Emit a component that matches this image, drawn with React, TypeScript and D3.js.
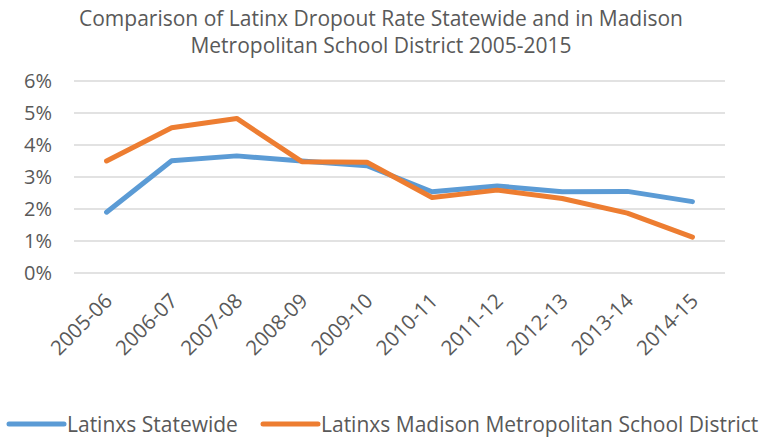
import React from "react";
import * as d3 from "d3";

// school years on the x axis
const categories = [
  "2005-06",
  "2006-07",
  "2007-08",
  "2008-09",
  "2009-10",
  "2010-11",
  "2011-12",
  "2012-13",
  "2013-14",
  "2014-15",
];

// dropout rate, in percent
const statewide = [1.9, 3.51, 3.66, 3.5, 3.35, 2.54, 2.72, 2.54, 2.55, 2.23];
const madison = [3.5, 4.54, 4.83, 3.48, 3.46, 2.36, 2.59, 2.33, 1.87, 1.12];

const yTicks = [0, 1, 2, 3, 4, 5, 6];

const titleLines = [
  "Comparison of Latinx Dropout Rate Statewide and in Madison",
  "Metropolitan School District 2005-2015",
];

const seriesNames = ["Latinxs Statewide", "Latinxs Madison Metropolitan School District"];

const width = 779;
const height = 437;
const plot = { left: 74, right: 725, top: 81, bottom: 273 };
const font = "'Open Sans', 'Noto Sans', sans-serif";
const textColor = "#595959";
const colors = ["#5b9bd5", "#ed7d31"];

const App = () => {
  const x = d3
    .scalePoint<string>()
    .domain(categories)
    .range([plot.left, plot.right])
    .padding(0.5);
  const y = d3.scaleLinear().domain([0, 6]).range([plot.bottom, plot.top]);

  const line = d3
    .line<number>()
    .x((d, i) => x(categories[i]) as number)
    .y((d) => y(d));

  const series = [statewide, madison];

  // legend pieces: [line start, text start]
  const legendPos = [
    [9, 67],
    [263, 321],
  ];

  return (
    <svg
      width={width}
      height={height}
      style={{ position: "absolute", left: 0, top: 0, background: "#fff" }}
      fontFamily={font}
    >
      {titleLines.map((t, i) => (
        <text
          key={t}
          x={381}
          y={26 + i * 27}
          textAnchor="middle"
          fontSize={21}
          fill={textColor}
        >
          {t}
        </text>
      ))}

      {yTicks.map((t) => (
        <g key={t}>
          <line
            x1={plot.left}
            x2={plot.right}
            y1={y(t)}
            y2={y(t)}
            stroke="#d9d9d9"
            strokeWidth={1.5}
          />
          <text
            x={52}
            y={y(t)}
            dy="0.36em"
            textAnchor="end"
            fontSize={20}
            fill={textColor}
          >
            {t}%
          </text>
        </g>
      ))}

      {categories.map((c) => (
        <text
          key={c}
          transform={`translate(${(x(c) as number) + 2},${plot.bottom + 24}) rotate(-45)`}
          textAnchor="end"
          dy="0.35em"
          fontSize={20.5}
          fill={textColor}
        >
          {c}
        </text>
      ))}

      {series.map((s, i) => (
        <path
          key={i}
          d={line(s) || ""}
          fill="none"
          stroke={colors[i]}
          strokeWidth={5}
          strokeLinecap="round"
          strokeLinejoin="round"
        />
      ))}

      {seriesNames.map((n, i) => (
        <g key={n}>
          <line
            x1={legendPos[i][0]}
            x2={legendPos[i][0] + 55}
            y1={424}
            y2={424}
            stroke={colors[i]}
            strokeWidth={5}
            strokeLinecap="round"
          />
          <text
            x={legendPos[i][1]}
            y={424}
            dy="0.36em"
            fontSize={21}
            fill={textColor}
          >
            {n}
          </text>
        </g>
      ))}
    </svg>
  );
};

export default App;
